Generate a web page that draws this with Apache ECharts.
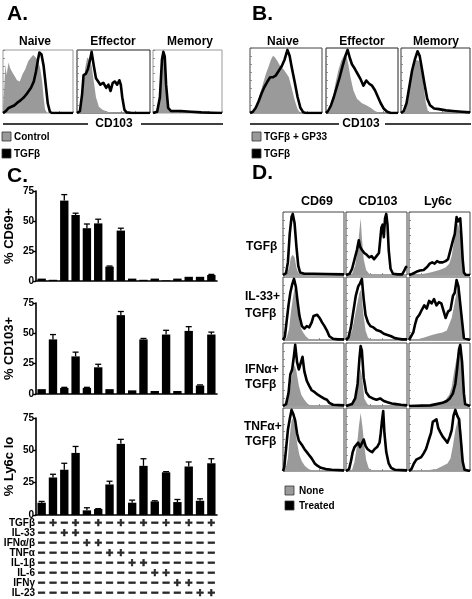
<!DOCTYPE html>
<html><head><meta charset="utf-8">
<script src="https://cdn.jsdelivr.net/npm/echarts@6/dist/echarts.min.js"></script>
<style>html,body{margin:0;padding:0;background:#fff}#c{width:472px;height:599px}</style>
</head><body><div id="c"></div>
<script>
// ---------- Panel C data ----------
const columns = ['1','2','3','4','5','6','7','8','9','10','11','12','13','14','15','16'];
const cd69Values  = [2, 1, 67, 55, 44, 48, 12, 42, 2, 1, 2, 0.5, 2, 3.5, 3.5, 5];
const cd69Err     = [0, 0, 5, 1.5, 3.5, 3.5, 0.5, 2, 0, 0, 0, 0, 0, 0, 0, 0.5];
const cd103Values = [4, 45, 5, 31, 5, 22, 4, 65, 3, 45, 2.5, 49, 2.5, 52, 7, 49];
const cd103Err    = [0, 4, 0.5, 3.5, 0.5, 2.5, 0, 3, 0, 0.8, 0, 3.5, 0, 3.5, 0.5, 2];
const ly6cValues  = [9.5, 29, 35, 48, 3.6, 4.6, 23.6, 55, 9.5, 38, 10.5, 33, 10, 37.5, 11, 40];
const ly6cErr     = [1, 2.5, 5, 5, 2, 0.3, 2.5, 3.5, 2, 5.5, 0.5, 0.5, 2, 3.5, 1.5, 3.5];
const yTicks = [0, 25, 50, 75];

const rowNames = ['TGFβ','IL-33','IFNα/β','TNFα','IL-1β','IL-6','IFNγ','IL-23'];
const rowTGF   = ['-','+','-','+','-','+','-','+','-','+','-','+','-','+','-','+'];
const rowIL33  = ['-','-','+','+','-','-','-','-','-','-','-','-','-','-','-','-'];
const rowIFNab = ['-','-','-','-','+','+','-','-','-','-','-','-','-','-','-','-'];
const rowTNF   = ['-','-','-','-','-','-','+','+','-','-','-','-','-','-','-','-'];
const rowIL1   = ['-','-','-','-','-','-','-','-','+','+','-','-','-','-','-','-'];
const rowIL6   = ['-','-','-','-','-','-','-','-','-','-','+','+','-','-','-','-'];
const rowIFNg  = ['-','-','-','-','-','-','-','-','-','-','-','-','+','+','-','-'];
const rowIL23  = ['-','-','-','-','-','-','-','-','-','-','-','-','-','-','+','+'];

// ---------- Histogram data (x: fraction of axis, y: % of max) ----------
const aNaiveCtrl = [[0,10],[0.02,45],[0.035,77],[0.05,60],[0.08,80],[0.1,72],[0.13,65],[0.17,58],[0.2,52],[0.24,50],[0.28,62],[0.32,70],[0.36,82],[0.4,88],[0.43,92],[0.47,88],[0.5,82],[0.53,72],[0.56,50],[0.58,25],[0.6,6],[0.63,0],[1,0]];
const aNaiveTgf  = [[0,0],[0.04,3],[0.08,8],[0.12,10],[0.16,12],[0.2,16],[0.25,20],[0.3,25],[0.35,32],[0.4,40],[0.44,50],[0.47,65],[0.5,85],[0.52,96],[0.55,93],[0.58,75],[0.61,45],[0.64,15],[0.67,2],[0.7,0],[1,0]];
const aEffCtrl   = [[0,0],[0.05,2],[0.08,30],[0.11,70],[0.14,88],[0.17,85],[0.2,75],[0.23,50],[0.26,25],[0.3,10],[0.35,5],[0.42,2],[0.5,0],[1,0]];
const aEffTgf    = [[0,0],[0.04,3],[0.07,30],[0.09,60],[0.12,62],[0.15,70],[0.18,85],[0.2,97],[0.23,75],[0.26,55],[0.29,50],[0.32,45],[0.36,48],[0.4,40],[0.43,45],[0.46,35],[0.49,48],[0.52,50],[0.55,45],[0.58,52],[0.6,45],[0.62,25],[0.65,5],[0.68,1],[0.75,0],[1,0]];
const aMemCtrl   = [[0,0],[0.06,1],[0.1,20],[0.13,80],[0.15,95],[0.17,85],[0.19,40],[0.22,5],[0.26,0],[1,0]];
const aMemTgf    = [[0,0],[0.06,2],[0.1,25],[0.13,85],[0.15,97],[0.17,90],[0.19,45],[0.22,8],[0.26,3],[0.4,3],[0.55,2],[0.7,1],[0.85,0.5],[1,0]];

const bNaiveCtrl = [[0,0],[0.06,3],[0.1,12],[0.14,30],[0.18,45],[0.22,60],[0.26,72],[0.29,82],[0.32,88],[0.35,85],[0.38,80],[0.42,72],[0.46,68],[0.5,62],[0.54,55],[0.58,38],[0.62,20],[0.66,6],[0.7,0],[1,0]];
const bNaiveTgf  = [[0,0],[0.04,2],[0.08,8],[0.12,18],[0.16,30],[0.2,40],[0.24,48],[0.28,55],[0.32,55],[0.36,58],[0.4,65],[0.44,72],[0.48,82],[0.52,97],[0.55,88],[0.58,70],[0.62,48],[0.66,25],[0.7,8],[0.74,1],[0.78,0],[1,0]];
const bEffCtrl   = [[0,0],[0.05,2],[0.09,20],[0.13,45],[0.17,65],[0.21,80],[0.25,88],[0.28,90],[0.31,75],[0.34,55],[0.38,35],[0.43,22],[0.5,15],[0.56,12],[0.62,8],[0.68,3],[0.75,0],[1,0]];
const bEffTgf    = [[0,0],[0.03,3],[0.07,12],[0.11,25],[0.15,40],[0.19,55],[0.23,72],[0.27,88],[0.3,97],[0.33,85],[0.36,75],[0.4,68],[0.44,60],[0.48,52],[0.52,42],[0.56,50],[0.6,45],[0.64,42],[0.68,35],[0.72,25],[0.76,15],[0.8,7],[0.85,2],[0.9,0],[1,0]];
const bMemCtrl   = [[0,0],[0.06,3],[0.1,20],[0.14,50],[0.18,72],[0.22,82],[0.26,80],[0.3,65],[0.33,40],[0.36,15],[0.39,3],[0.42,0],[1,0]];
const bMemTgf    = [[0,0],[0.04,3],[0.08,15],[0.12,40],[0.16,65],[0.2,82],[0.24,95],[0.27,88],[0.3,70],[0.34,45],[0.38,22],[0.42,12],[0.48,7],[0.55,6],[0.65,4],[0.75,3],[0.88,2],[1,1]];

const dTgfCd69None   = [[0,0],[0.06,2],[0.1,12],[0.13,28],[0.16,32],[0.19,28],[0.22,12],[0.25,3],[0.3,0],[1,0]];
const dTgfCd69Trt    = [[0,0],[0.05,3],[0.08,20],[0.11,65],[0.14,92],[0.16,97],[0.19,82],[0.22,45],[0.25,15],[0.28,4],[0.35,2],[0.5,2],[0.7,1.5],[1,1]];
const dTgfCd103None  = [[0,0],[0.1,2],[0.15,15],[0.19,40],[0.22,70],[0.24,90],[0.26,60],[0.29,25],[0.33,8],[0.38,2],[0.45,0],[1,0]];
const dTgfCd103Trt   = [[0,0],[0.06,2],[0.1,10],[0.14,25],[0.18,40],[0.21,55],[0.23,45],[0.26,40],[0.3,35],[0.34,32],[0.38,28],[0.42,30],[0.46,25],[0.5,30],[0.54,35],[0.56,55],[0.58,75],[0.6,80],[0.62,60],[0.64,90],[0.66,97],[0.68,80],[0.7,40],[0.73,10],[0.77,2],[0.85,1],[0.92,1],[0.95,6],[0.98,12],[1,14]];
const dTgfLy6cNone   = [[0,0],[0.2,1],[0.35,4],[0.5,8],[0.6,12],[0.66,18],[0.7,30],[0.74,55],[0.77,75],[0.8,82],[0.83,85],[0.86,60],[0.88,20],[0.9,3],[0.92,0],[1,0]];
const dTgfLy6cTrt    = [[0,0],[0.06,2],[0.12,5],[0.18,7],[0.24,8],[0.3,13],[0.34,18],[0.38,20],[0.42,18],[0.46,22],[0.5,20],[0.55,20],[0.6,22],[0.64,25],[0.68,40],[0.72,55],[0.75,65],[0.78,92],[0.8,85],[0.82,88],[0.84,90],[0.86,60],[0.88,25],[0.9,4],[0.93,0],[1,0]];

const dIl33Cd69None  = [[0,0],[0.06,3],[0.1,18],[0.13,45],[0.16,65],[0.19,82],[0.22,65],[0.25,40],[0.29,20],[0.33,12],[0.38,5],[0.43,1],[0.48,0],[1,0]];
const dIl33Cd69Trt   = [[0,0],[0.03,5],[0.06,30],[0.09,55],[0.12,75],[0.15,88],[0.18,97],[0.21,85],[0.24,60],[0.27,38],[0.31,22],[0.35,18],[0.39,22],[0.43,20],[0.47,28],[0.5,38],[0.53,35],[0.56,40],[0.6,35],[0.64,28],[0.68,22],[0.72,15],[0.76,6],[0.82,2],[0.9,1],[1,1]];
const dIl33Cd103None = [[0,0],[0.05,3],[0.1,15],[0.14,35],[0.18,55],[0.22,75],[0.25,80],[0.28,45],[0.32,15],[0.36,4],[0.42,0],[1,0]];
const dIl33Cd103Trt  = [[0,0],[0.04,4],[0.08,20],[0.12,45],[0.16,70],[0.2,85],[0.23,90],[0.26,97],[0.29,65],[0.32,40],[0.36,28],[0.4,22],[0.45,20],[0.5,16],[0.56,14],[0.62,10],[0.68,8],[0.74,6],[0.8,3],[0.86,2],[0.92,1],[1,1]];
const dIl33Ly6cNone  = [[0,0],[0.15,1],[0.25,4],[0.35,7],[0.45,10],[0.55,12],[0.62,15],[0.66,25],[0.7,35],[0.74,55],[0.78,75],[0.81,85],[0.84,70],[0.87,20],[0.9,2],[0.92,0],[1,0]];
const dIl33Ly6cTrt   = [[0,0],[0.03,3],[0.07,12],[0.1,25],[0.13,35],[0.17,40],[0.21,48],[0.25,55],[0.29,50],[0.33,62],[0.37,58],[0.41,65],[0.45,55],[0.49,60],[0.53,58],[0.57,45],[0.6,35],[0.64,45],[0.68,48],[0.72,70],[0.75,75],[0.78,95],[0.81,85],[0.84,88],[0.87,30],[0.9,3],[0.93,0],[1,0]];

const dIfnCd69None   = [[0,0],[0.06,3],[0.1,15],[0.13,38],[0.16,55],[0.19,65],[0.22,55],[0.26,32],[0.3,18],[0.35,10],[0.4,4],[0.46,0],[1,0]];
const dIfnCd69Trt    = [[0,0],[0.05,3],[0.09,20],[0.12,50],[0.15,58],[0.18,80],[0.2,97],[0.23,70],[0.26,58],[0.29,68],[0.32,78],[0.35,55],[0.39,40],[0.43,32],[0.47,25],[0.52,22],[0.57,18],[0.62,15],[0.67,12],[0.72,10],[0.76,5],[0.82,2],[1,1]];
const dIfnCd103None  = [[0,0],[0.12,2],[0.17,15],[0.21,40],[0.24,60],[0.27,40],[0.3,12],[0.35,3],[0.4,0],[1,0]];
const dIfnCd103Trt   = [[0,0],[0.1,3],[0.15,12],[0.19,35],[0.22,75],[0.24,95],[0.26,88],[0.29,45],[0.33,22],[0.38,15],[0.44,12],[0.5,10],[0.56,12],[0.62,8],[0.68,6],[0.75,4],[0.82,3],[0.9,2],[1,1]];
const dIfnLy6cNone   = [[0,0],[0.4,1],[0.5,4],[0.6,10],[0.66,18],[0.7,30],[0.74,55],[0.78,75],[0.81,90],[0.84,95],[0.87,60],[0.9,15],[0.92,0],[1,0]];
const dIfnLy6cTrt    = [[0,0],[0.35,1],[0.45,3],[0.55,5],[0.62,8],[0.67,12],[0.72,20],[0.76,35],[0.79,60],[0.82,90],[0.84,97],[0.87,70],[0.9,20],[0.92,3],[0.95,0],[1,0]];

const dTnfCd69None   = [[0,0],[0.04,3],[0.08,20],[0.11,55],[0.14,80],[0.17,85],[0.2,70],[0.23,45],[0.27,25],[0.31,15],[0.36,8],[0.42,3],[0.5,0],[1,0]];
const dTnfCd69Trt    = [[0,0],[0.02,5],[0.05,35],[0.08,65],[0.11,82],[0.14,97],[0.17,90],[0.2,80],[0.23,60],[0.26,48],[0.29,45],[0.32,40],[0.35,35],[0.39,30],[0.43,25],[0.47,20],[0.52,12],[0.57,8],[0.62,5],[0.7,3],[0.8,2],[1,1]];
const dTnfCd103None  = [[0,0],[0.1,2],[0.14,15],[0.18,40],[0.21,70],[0.24,92],[0.27,70],[0.3,40],[0.33,18],[0.37,5],[0.42,0],[1,0]];
const dTnfCd103Trt   = [[0,0],[0.05,3],[0.08,15],[0.11,30],[0.14,38],[0.17,40],[0.2,45],[0.23,38],[0.26,35],[0.29,50],[0.32,40],[0.35,35],[0.39,32],[0.43,30],[0.47,35],[0.51,38],[0.55,45],[0.57,60],[0.59,80],[0.61,95],[0.63,60],[0.66,30],[0.7,12],[0.74,5],[0.8,2],[1,1]];
const dTnfLy6cNone   = [[0,0],[0.3,1],[0.45,3],[0.55,8],[0.63,12],[0.68,20],[0.72,40],[0.76,65],[0.8,80],[0.84,85],[0.87,45],[0.9,5],[0.92,0],[1,0]];
const dTnfLy6cTrt    = [[0,0],[0.04,3],[0.08,12],[0.12,18],[0.16,20],[0.2,22],[0.24,28],[0.28,35],[0.32,48],[0.36,60],[0.39,78],[0.42,75],[0.45,82],[0.48,68],[0.51,62],[0.55,55],[0.59,50],[0.63,45],[0.67,55],[0.7,65],[0.73,88],[0.76,97],[0.79,88],[0.82,82],[0.85,50],[0.88,15],[0.91,2],[0.94,0],[1,0]];

// ---------- build ----------
const FF = '"Liberation Sans", Arial, sans-serif';
const GRAY = '#9a9a9a';
const grids = [], xAxes = [], yAxes = [], series = [];

function addHist(box, gray, black, border) {
  const gi = grids.length;
  grids.push({left: box[0], top: box[1], width: box[2], height: box[3], show: true,
    borderColor: border, borderWidth: 1, backgroundColor: '#fff'});
  xAxes.push({gridIndex: gi, type: 'value', min: 0, max: 1, interval: 0.2,
    axisLine: {show: false}, splitLine: {show: false}, axisLabel: {show: false},
    axisTick: {show: true, inside: true, length: 2, lineStyle: {color: '#777', width: 0.8}}});
  yAxes.push({gridIndex: gi, type: 'value', min: 0, max: 100, interval: 12.5,
    axisLine: {show: false}, splitLine: {show: false}, axisLabel: {show: false},
    axisTick: {show: true, inside: true, length: 2, lineStyle: {color: '#777', width: 0.8}}});
  series.push({type: 'line', xAxisIndex: gi, yAxisIndex: gi, data: gray, symbol: 'none',
    lineStyle: {width: 0}, areaStyle: {color: GRAY, opacity: 1}, silent: true, clip: true, z: 2});
  series.push({type: 'line', xAxisIndex: gi, yAxisIndex: gi, data: black, symbol: 'none',
    lineStyle: {width: 2.6, color: '#000', join: 'round'}, silent: true, clip: true, z: 3});
}

function addBars(box, values, errs, name) {
  const gi = grids.length;
  grids.push({left: box[0], top: box[1], width: box[2], height: box[3]});
  xAxes.push({gridIndex: gi, type: 'category', data: columns,
    axisLine: {lineStyle: {color: '#000', width: 1.6}}, axisTick: {show: false}, axisLabel: {show: false}});
  yAxes.push({gridIndex: gi, type: 'value', min: yTicks[0], max: yTicks[yTicks.length - 1], interval: yTicks[1] - yTicks[0],
    name: name, nameLocation: 'middle', nameGap: 20, nameRotate: 90,
    nameTextStyle: {fontFamily: FF, fontWeight: 'bold', fontSize: 13, color: '#000'},
    axisLine: {show: true, lineStyle: {color: '#000', width: 1.6}},
    axisTick: {show: true, length: 3, lineStyle: {color: '#000', width: 1.4}},
    axisLabel: {fontFamily: FF, fontWeight: 'bold', fontSize: 10, color: '#000', margin: 2},
    splitLine: {show: false}});
  series.push({type: 'bar', xAxisIndex: gi, yAxisIndex: gi, data: values, barWidth: '74%',
    itemStyle: {color: '#000'}, silent: true});
  series.push({type: 'custom', xAxisIndex: gi, yAxisIndex: gi,
    data: values.map((v, i) => [i, v, errs[i]]), silent: true, z: 3,
    renderItem: function (params, api) {
      const e = api.value(2);
      if (!e) return {type: 'group', children: []};
      const p0 = api.coord([api.value(0), api.value(1)]);
      const p1 = api.coord([api.value(0), api.value(1) + e]);
      return {type: 'group', children: [
        {type: 'line', shape: {x1: p0[0], y1: p0[1], x2: p1[0], y2: p1[1]}, style: {stroke: '#000', lineWidth: 1.3}},
        {type: 'line', shape: {x1: p1[0] - 3, y1: p1[1], x2: p1[0] + 3, y2: p1[1]}, style: {stroke: '#000', lineWidth: 1.3}}
      ]};
    }});
}

// Panel A
addHist([3, 50, 70, 63], aNaiveCtrl, aNaiveTgf, '#999');
addHist([77, 50, 73, 63], aEffCtrl, aEffTgf, '#222');
addHist([153, 50, 69, 63], aMemCtrl, aMemTgf, '#999');
// Panel B
addHist([250, 48, 72, 65], bNaiveCtrl, bNaiveTgf, '#444');
addHist([326, 48, 72, 65], bEffCtrl, bEffTgf, '#222');
addHist([401, 48, 69, 65], bMemCtrl, bMemTgf, '#333');
// Panel D
const dCols = [283, 346, 409], dRows = [212, 277, 343, 408];
const dData = [
  [[dTgfCd69None, dTgfCd69Trt], [dTgfCd103None, dTgfCd103Trt], [dTgfLy6cNone, dTgfLy6cTrt]],
  [[dIl33Cd69None, dIl33Cd69Trt], [dIl33Cd103None, dIl33Cd103Trt], [dIl33Ly6cNone, dIl33Ly6cTrt]],
  [[dIfnCd69None, dIfnCd69Trt], [dIfnCd103None, dIfnCd103Trt], [dIfnLy6cNone, dIfnLy6cTrt]],
  [[dTnfCd69None, dTnfCd69Trt], [dTnfCd103None, dTnfCd103Trt], [dTnfLy6cNone, dTnfLy6cTrt]]
];
dData.forEach((row, r) => row.forEach((pair, c) => addHist([dCols[c], dRows[r], 61, 63], pair[0], pair[1], '#444')));

// Panel C
addBars([36, 191, 181, 90], cd69Values, cd69Err, '% CD69+');
addBars([36, 303, 181, 91], cd103Values, cd103Err, '% CD103+');
addBars([36, 418, 181, 97], ly6cValues, ly6cErr, '% Ly6c lo');

// Table
(function () {
  const gi = grids.length;
  const rows = [rowTGF, rowIL33, rowIFNab, rowTNF, rowIL1, rowIL6, rowIFNg, rowIL23];
  grids.push({left: 36, top: 518, width: 181, height: 80});
  xAxes.push({gridIndex: gi, type: 'category', data: columns, show: false});
  yAxes.push({gridIndex: gi, type: 'category', data: rowNames, inverse: true,
    axisLine: {show: false}, axisTick: {show: false}, splitLine: {show: false},
    axisLabel: {interval: 0, fontFamily: FF, fontWeight: 'bold', fontSize: 10, color: '#000', margin: 1}});
  const data = [];
  rows.forEach((arr, r) => arr.forEach((s, c) => data.push([c, r, s])));
  series.push({type: 'scatter', xAxisIndex: gi, yAxisIndex: gi, data: data, symbolSize: 2,
    itemStyle: {color: 'rgba(255,255,255,0)'}, silent: true,
    label: {show: true, position: 'inside', formatter: p => (p.value[2] === '+' ? '+' : '−'),
      fontFamily: FF, fontWeight: 'bold', fontSize: 13, color: '#000',
      textBorderColor: '#000', textBorderWidth: 0.7},
    labelLayout: {hideOverlap: false}});
})();

// ---------- text / decorations ----------
function txt(s, x, y, size, align) {
  return {type: 'text', x: x, y: y, silent: true, z: 100,
    style: {text: s, fill: '#000', font: 'bold ' + size + 'px ' + FF,
      textAlign: align || 'center', textVerticalAlign: 'middle', verticalAlign: 'middle'}};
}
function hline(x1, x2, y) {
  return {type: 'line', silent: true, z: 100, shape: {x1: x1, y1: y, x2: x2, y2: y}, style: {stroke: '#000', lineWidth: 1.5}};
}
function sq(x, y, fill) {
  return {type: 'rect', silent: true, z: 100, shape: {x: x, y: y, width: 9, height: 9}, style: {fill: fill, stroke: '#333', lineWidth: 0.8}};
}
const graphic = [
  txt('A.', 7, 14, 21, 'left'), txt('B.', 252, 14, 21, 'left'),
  txt('C.', 7, 176, 21, 'left'), txt('D.', 252, 173, 21, 'left'),
  txt('Naive', 35, 42, 12), txt('Effector', 113, 42, 12), txt('Memory', 190, 42, 12),
  txt('Naive', 283, 42, 12), txt('Effector', 362, 42, 12), txt('Memory', 436, 42, 12),
  txt('CD103', 114, 124, 12), hline(3, 88, 124), hline(141, 223, 124),
  txt('CD103', 361, 124, 12), hline(250, 339, 124), hline(385, 471, 124),
  sq(2, 132, GRAY), txt('Control', 14, 137, 10, 'left'),
  sq(2, 149, '#000'), txt('TGFβ', 14, 154, 10, 'left'),
  sq(252, 132, GRAY), txt('TGFβ + GP33', 264, 137, 10, 'left'),
  sq(252, 149, '#000'), txt('TGFβ', 264, 154, 10, 'left'),
  txt('CD69', 317, 202, 12.5), txt('CD103', 378, 202, 12.5), txt('Ly6c', 438, 202, 12.5),
  txt('TGFβ', 246, 247, 12, 'left'),
  txt('IL-33+', 245, 297, 12, 'left'), txt('TGFβ', 245, 314, 12, 'left'),
  txt('IFNα+', 245, 370, 12, 'left'), txt('TGFβ', 245, 385, 12, 'left'),
  txt('TNFα+', 244, 427, 12, 'left'), txt('TGFβ', 245, 442, 12, 'left'),
  sq(285, 486, GRAY), txt('None', 299, 491, 10, 'left'),
  sq(285, 501, '#000'), txt('Treated', 299, 506, 10, 'left')
];

const chart = echarts.init(document.getElementById('c'), null, {renderer: 'canvas'});
chart.setOption({
  animation: false,
  backgroundColor: '#fff',
  grid: grids, xAxis: xAxes, yAxis: yAxes, series: series, graphic: graphic
});
</script></body></html>
